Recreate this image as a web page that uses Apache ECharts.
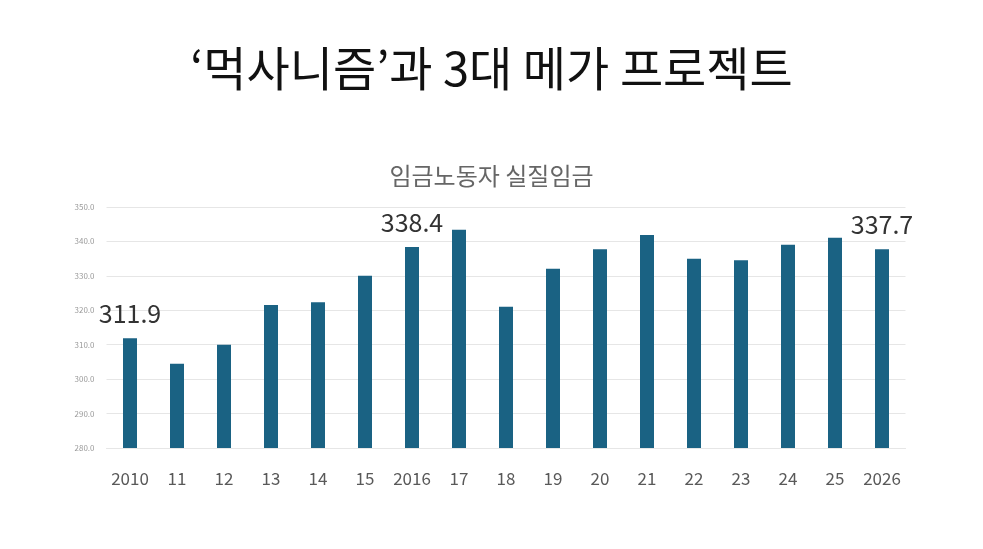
<!DOCTYPE html>
<html>
<head>
<meta charset="utf-8">
<script src="https://cdn.jsdelivr.net/npm/echarts@6/dist/echarts.min.js"></script>
<style>
html, body { margin: 0; padding: 0; background: #fff; }
#main { width: 983px; height: 549px; }
</style>
</head>
<body>
<div id="main"></div>
<script>
var years = ['2010', '11', '12', '13', '14', '15', '2016', '17', '18',
    '19', '20', '21', '22', '23', '24', '25', '2026'];
var wages = [311.9, 304.5, 310.0, 321.5, 322.3, 330.0, 338.4, 343.4, 321.0,
    332.1, 337.7, 341.9, 335.0, 334.5, 339.0, 341.1, 337.7];
var labelled = [0, 6, 16];

var font = '"Noto Sans CJK KR", "Noto Sans", sans-serif';

var barData = wages.map(function (v, i) {
    return {
        value: v,
        label: { show: labelled.indexOf(i) >= 0 }
    };
});

var option = {
    animation: false,
    backgroundColor: '#fff',
    title: [{
        text: '‘먹사니즘’과 3대 메가 프로젝트',
        left: 'center',
        top: 40,
        textStyle: { fontFamily: font, fontSize: 47, fontWeight: 'normal', color: '#111' }
    }, {
        text: '임금노동자 실질임금',
        left: 'center',
        top: 159,
        textStyle: { fontFamily: font, fontSize: 24, fontWeight: 'normal', color: '#666' }
    }],
    grid: {
        left: 106.5,
        right: 77.5,
        top: 207,
        bottom: 101
    },
    xAxis: {
        type: 'category',
        data: years,
        axisLine: { show: true, lineStyle: { color: '#e6e6e6' } },
        axisTick: { show: false },
        axisLabel: { interval: 0, fontFamily: font, fontSize: 17, color: '#595959', margin: 22 }
    },
    yAxis: {
        type: 'value',
        min: 280,
        max: 350,
        interval: 10,
        axisLine: { show: false },
        axisTick: { show: false },
        splitLine: { lineStyle: { color: '#e6e6e6' } },
        axisLabel: {
            fontFamily: font, fontSize: 8, color: '#9a9a9a', margin: 12,
            formatter: function (v) { return v.toFixed(1); }
        }
    },
    series: [{
        type: 'bar',
        data: barData,
        barWidth: 14,
        itemStyle: { color: '#1a6283' },
        label: {
            position: 'top',
            distance: 12,
            fontFamily: font,
            fontSize: 25,
            color: '#333',
            formatter: function (p) { return p.value.toFixed(1); }
        }
    }]
};

var myChart = echarts.init(document.getElementById('main'));
myChart.setOption(option);
</script>
</body>
</html>
